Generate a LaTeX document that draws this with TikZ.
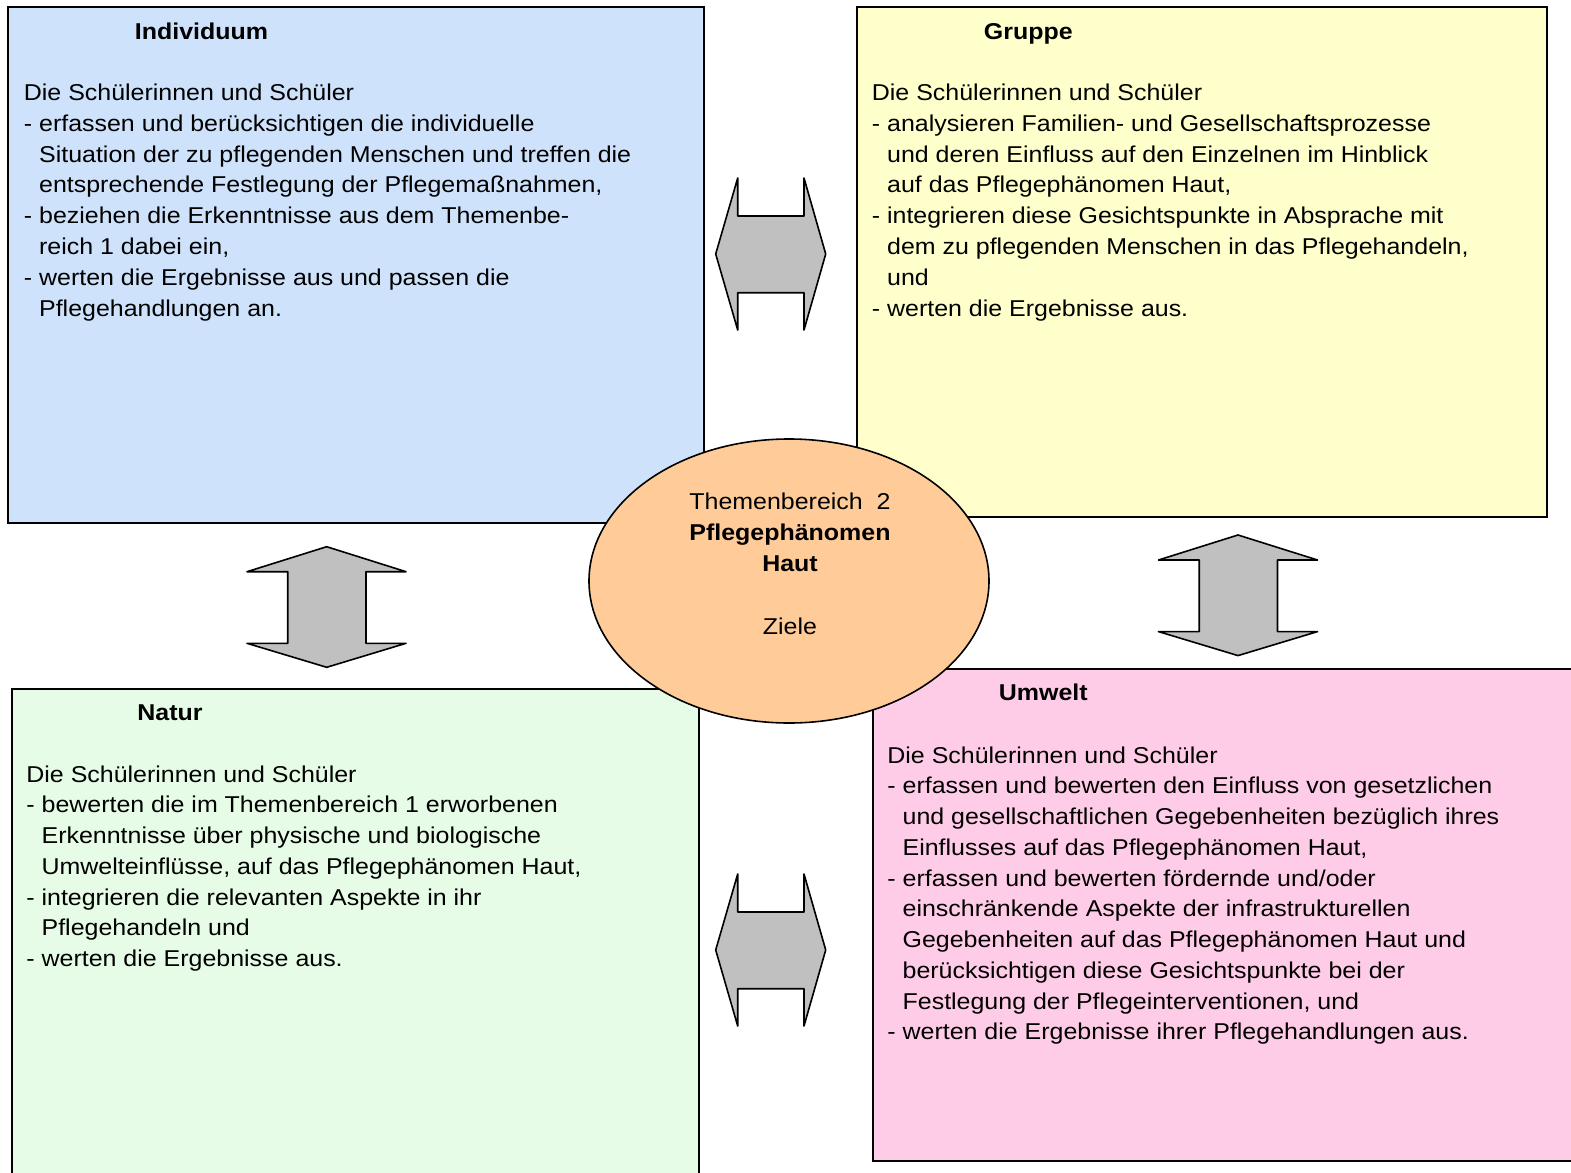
\documentclass[tikz,border=0pt]{standalone}
\usepackage{fontspec}
\setmainfont[FakeStretch=1.09]{Liberation Sans}
\usetikzlibrary{shapes.geometric}
\definecolor{cblue}{HTML}{CFE2FB}
\definecolor{cyellow}{HTML}{FFFFCC}
\definecolor{cgreen}{HTML}{E6FCE6}
\definecolor{cpink}{HTML}{FFCCE8}
\definecolor{cpeach}{HTML}{FFCC99}
\definecolor{cgray}{HTML}{C0C0C0}
\newcommand\indl{\phantom{-\ }}
\begin{document}
\begin{tikzpicture}[x=0.5pt,y=-0.5pt,
  boxline/.style={draw=black,line width=1pt},
  dblarrow/.style={draw=black,line width=0.8pt,fill=cgray,line join=round},
  txt/.style={anchor=base west,inner sep=0pt,font=\fontsize{11.45pt}{15.38pt}\selectfont},
  ttl/.style={anchor=base west,inner sep=0pt,font=\fontsize{11.45pt}{15.38pt}\selectfont\bfseries}]
\useasboundingbox (0,0) rectangle (1571,1173);
\clip (0,0) rectangle (1571,1173);
% boxes
\draw[boxline,fill=cblue] (8,7) rectangle (704,523);
\draw[boxline,fill=cyellow] (857,7) rectangle (1547,517);
\draw[boxline,fill=cgreen] (12,689) rectangle (699,1190);
\draw[boxline,fill=cpink] (873,669) rectangle (1590,1161);
% ellipse
\node[ellipse,draw=black,line width=0.8pt,fill=cpeach,minimum width=200pt,minimum height=142pt,inner sep=0pt] (centre) at (789,581) {};
% arrows
\draw[dblarrow] (715.7,254) -- (737.7,178) -- (737.7,216) -- (804,216) -- (804,178) -- (825.7,254) -- (804,330) -- (804,292.7) -- (737.7,292.7) -- (737.7,330) -- cycle;
\draw[dblarrow] (715.7,950) -- (737.7,874) -- (737.7,912) -- (804,912) -- (804,874) -- (825.7,950) -- (804,1026) -- (804,988.7) -- (737.7,988.7) -- (737.7,1026) -- cycle;
\draw[dblarrow] (326.7,546.7) -- (406,571.7) -- (366,571.7) -- (366,643.3) -- (406,643.3) -- (326.7,667.3) -- (247,643.3) -- (287.7,643.3) -- (287.7,571.7) -- (247,571.7) -- cycle;
\draw[dblarrow] (1238,535) -- (1317.5,560) -- (1277.5,560) -- (1277.5,631.6) -- (1317.5,631.6) -- (1238,655.6) -- (1158.5,631.6) -- (1199.2,631.6) -- (1199.2,560) -- (1158.5,560) -- cycle;
% titles
\node[ttl] (tind) at (134.5,39.3) {Individuum};
\node[ttl] (tgru) at (983.5,39.3) {Gruppe};
\node[ttl] (tnat) at (137,720.5) {Natur};
\node[ttl] (tumw) at (998.5,700.5) {Umwelt};
% bodies
\node[txt] (bind) at (23.5,100.7) {\begin{tabular}[t]{@{}l@{}}
Die Schülerinnen und Schüler\\
- erfassen und berücksichtigen die individuelle\\
\indl Situation der zu pflegenden Menschen und treffen die\\
\indl entsprechende Festlegung der Pflegemaßnahmen,\\
- beziehen die Erkenntnisse aus dem Themenbe-\\
\indl reich 1 dabei ein,\\
- werten die Ergebnisse aus und passen die\\
\indl Pflegehandlungen an.
\end{tabular}};
\node[txt] (bgru) at (871.5,100.7) {\begin{tabular}[t]{@{}l@{}}
Die Schülerinnen und Schüler\\
- analysieren Familien- und Gesellschaftsprozesse\\
\indl und deren Einfluss auf den Einzelnen im Hinblick\\
\indl auf das Pflegephänomen Haut,\\
- integrieren diese Gesichtspunkte in Absprache mit\\
\indl dem zu pflegenden Menschen in das Pflegehandeln,\\
\indl und\\
- werten die Ergebnisse aus.
\end{tabular}};
\node[txt] (bnat) at (26,782) {\begin{tabular}[t]{@{}l@{}}
Die Schülerinnen und Schüler\\
- bewerten die im Themenbereich 1 erworbenen\\
\indl Erkenntnisse über physische und biologische\\
\indl Umwelteinflüsse, auf das Pflegephänomen Haut,\\
- integrieren die relevanten Aspekte in ihr\\
\indl Pflegehandeln und\\
- werten die Ergebnisse aus.
\end{tabular}};
\node[txt] (bumw) at (887,763) {\begin{tabular}[t]{@{}l@{}}
Die Schülerinnen und Schüler\\
- erfassen und bewerten den Einfluss von gesetzlichen\\
\indl und gesellschaftlichen Gegebenheiten bezüglich ihres\\
\indl Einflusses auf das Pflegephänomen Haut,\\
- erfassen und bewerten fördernde und/oder\\
\indl einschränkende Aspekte der infrastrukturellen\\
\indl Gegebenheiten auf das Pflegephänomen Haut und\\
\indl berücksichtigen diese Gesichtspunkte bei der\\
\indl Festlegung der Pflegeinterventionen, und\\
- werten die Ergebnisse ihrer Pflegehandlungen aus.
\end{tabular}};
% ellipse text
\node[anchor=base,inner sep=0pt,font=\fontsize{11.45pt}{15.65pt}\selectfont] (ctext) at (790,509.3) {\begin{tabular}[t]{@{}c@{}}
Themenbereich\ \ 2\\
\textbf{Pflegephänomen}\\
\textbf{Haut}\\
\\
Ziele
\end{tabular}};
\end{tikzpicture}
\end{document}
